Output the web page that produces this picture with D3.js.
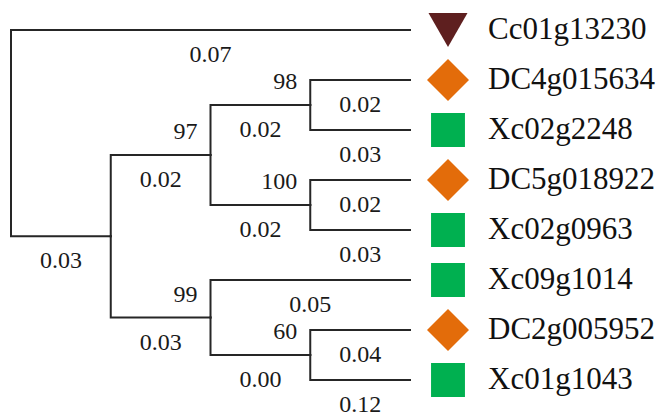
<!DOCTYPE html>
<html lang="en">
<head>
	<meta charset="UTF-8">
	<title>Tree</title>
	<script src="https://d3js.org/d3.v7.min.js"></script>
	<style>
		body {margin: 0; background: #fff;}
		text {font-family: "Liberation Serif", "Times New Roman", serif;}
	</style>
</head>
<body>
	<div id="myDiv"></div>
<script>
	// tree nodes (parent order keeps the drawing order)
	let nodeIds     = ["root", "Cc01g13230", "A", "B", "C", "DC4g015634", "Xc02g2248", "D", "DC5g018922", "Xc02g0963", "E", "Xc09g1014", "F", "DC2g005952", "Xc01g1043"];
	let parentIds   = ["",     "root",       "root", "A", "B", "C",        "C",         "B", "D",          "D",         "A", "E",         "E", "F",          "F"];
	let branchLen   = [null,   "0.07",       "0.03", "0.02", "0.02", "0.02", "0.03",    "0.02", "0.02",    "0.03",      "0.03", "0.05",   "0.00", "0.04",    "0.12"];
	let bootstrap   = [null,   null,         null,  "97",  "98",  null,     null,        "100", null,       null,        "99", null,        "60", null,        null];
	let leafGroup   = {"Cc01g13230": "Cc", "DC4g015634": "DC", "Xc02g2248": "Xc", "DC5g018922": "DC",
		"Xc02g0963": "Xc", "Xc09g1014": "Xc", "DC2g005952": "DC", "Xc01g1043": "Xc"};

	let rows = nodeIds.map(function(id, i){
		return {id: id, parent: parentIds[i], len: branchLen[i], boot: bootstrap[i]};
	});

	let svgContainer = d3.select("#myDiv").append("svg")
		.attr("width", 661)
		.attr("height", 417);

	let root = d3.stratify()
		.id(function(d){ return d.id; })
		.parentId(function(d){ return d.parent || null; })(rows);

	d3.cluster()
		.size([350, 399])
		.separation(function(){ return 1; })(root);

	let leaves = root.leaves();
	let leafExtent = d3.extent(leaves, function(d){ return d.x; });

	let xScale = d3.scaleLinear().domain([0, 399]).range([11, 410]);   // depth -> screen x
	let yScale = d3.scaleLinear().domain(leafExtent).range([30, 380]);  // leaf order -> screen y

	//Branches (elbow)
	svgContainer.selectAll("path.link")
		.data(root.descendants().slice(1))
		.enter()
		.append("path")
			.attr("class", "link")
			.attr("fill", "none")
			.attr("stroke", "#262626")
			.attr("stroke-width", 2)
			.attr("stroke-linecap", "square")
			.attr("d", function(d){
				return "M" + xScale(d.parent.y) + "," + yScale(d.parent.x) +
					"V" + yScale(d.x) + "H" + xScale(d.y);
			});

	//Branch length labels (under each horizontal branch)
	svgContainer.selectAll("text.len")
		.data(root.descendants().slice(1))
		.enter()
		.append("text")
			.attr("class", "len")
			.attr("x", function(d){ return (xScale(d.parent.y) + xScale(d.y)) / 2; })
			.attr("y", function(d){ return yScale(d.x) + 24; })
			.attr("text-anchor", "middle")
			.attr("dominant-baseline", "central")
			.attr("font-size", "24px")
			.attr("fill", "#1a1a1a")
			.text(function(d){ return d.data.len; });

	//Bootstrap labels
	svgContainer.selectAll("text.boot")
		.data(root.descendants().filter(function(d){ return d.data.boot; }))
		.enter()
		.append("text")
			.attr("class", "boot")
			.attr("x", function(d){ return xScale(d.y) - 13; })
			.attr("y", function(d){ return yScale(d.x) - 24; })
			.attr("text-anchor", "end")
			.attr("dominant-baseline", "central")
			.attr("font-size", "24px")
			.attr("fill", "#1a1a1a")
			.text(function(d){ return d.data.boot; });

	//Leaf markers
	let triangleDown = {
		draw: function(context, size){
			let s = Math.sqrt(size * 4 / Math.sqrt(3));
			let h = s * Math.sqrt(3) / 2;
			context.moveTo(-s / 2, -h / 2);
			context.lineTo(s / 2, -h / 2);
			context.lineTo(0, h / 2);
			context.closePath();
		}
	};
	let groupStyle = {
		"Cc": {type: triangleDown, size: 660, color: "#5e1f1f", rotate: 0},
		"DC": {type: d3.symbolSquare, size: 880, color: "#e36c0a", rotate: 45},
		"Xc": {type: d3.symbolSquare, size: 1150, color: "#00b050", rotate: 0}
	};

	svgContainer.selectAll("path.mark")
		.data(leaves)
		.enter()
		.append("path")
			.attr("class", "mark")
			.attr("d", function(d){
				let g = groupStyle[leafGroup[d.id]];
				return d3.symbol().type(g.type).size(g.size)();
			})
			.attr("fill", function(d){ return groupStyle[leafGroup[d.id]].color; })
			.attr("transform", function(d){
				let g = groupStyle[leafGroup[d.id]];
				return "translate(448," + yScale(d.x) + ") rotate(" + g.rotate + ")";
			});

	//Leaf names
	svgContainer.selectAll("text.leaf")
		.data(leaves)
		.enter()
		.append("text")
			.attr("class", "leaf")
			.attr("x", 488)
			.attr("y", function(d){ return yScale(d.x) - 2; })
			.attr("dominant-baseline", "central")
			.attr("font-size", "31px")
			.attr("fill", "#111")
			.text(function(d){ return d.id; });
</script>
</body>
</html>
